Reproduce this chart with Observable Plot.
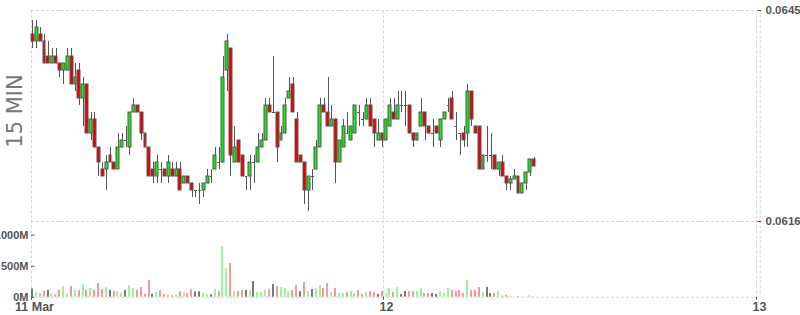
<!DOCTYPE html>
<html>
<head>
<meta charset="utf-8">
<script src="https://cdn.jsdelivr.net/npm/d3@7"></script>
<script src="https://cdn.jsdelivr.net/npm/@observablehq/plot@0.6"></script>
<style>
  html,body{margin:0;padding:0;background:#fff;}
  #chart{position:relative;width:800px;height:315px;overflow:hidden;}
  #chart svg{position:absolute;left:0;top:0;overflow:visible;background:none;}
  #label{position:absolute;left:15px;top:111px;transform:translate(-50%,-50%) rotate(-90deg);font:21px "DejaVu Sans",sans-serif;color:#777;white-space:nowrap;}
</style>
</head>
<body>
<div id="chart"><div id="label">15 MIN</div></div>
<script>
// ---- data ----
const startTime = "2024-03-11T01:15:00Z";   // first 15-minute candle
const intervalMinutes = 15;

const open = [
0.0642,0.0641,0.0642,0.0641,0.0639,0.0638,0.0639,0.0638,0.0637,0.0637,
0.0639,0.0635,0.0637,0.0633,0.0635,0.0628,0.0630,0.0626,0.0623,0.0623,
0.0625,0.0624,0.0623,0.0626,0.0627,0.0626,0.0631,0.0632,0.0631,0.0628,
0.0626,0.0623,0.0622,0.0623,0.0623,0.0622,0.0623,0.0622,0.0623,0.0621,
0.0622,0.0621,0.0620,0.0620,0.0620,0.0621,0.0622,0.0623,0.0624,0.0624,
0.0637,0.0640,0.0624,0.0627,0.0625,0.0622,0.0622,0.0624,0.0624,0.0626,
0.0627,0.0632,0.0631,0.0631,0.0627,0.0628,0.0633,0.0635,0.0630,0.0625,
0.0624,0.0620,0.0622,0.0623,0.0626,0.0632,0.0631,0.0629,0.0630,0.0624,
0.0626,0.0628,0.0627,0.0628,0.0631,0.0630,0.0630,0.0632,0.0630,0.0627,
0.0628,0.0627,0.0629,0.0631,0.0630,0.0632,0.0632,0.0632,0.0628,0.0627,
0.0629,0.0631,0.0629,0.0628,0.0629,0.0627,0.0630,0.0632,0.0633,0.0629,
0.0628,0.0628,0.0628,0.0634,0.0629,0.0629,0.0623,0.0625,0.0625,0.0625,
0.0623,0.0624,0.0622,0.0621,0.06215,0.0622,0.06195,0.0621,0.06225,0.06243];

const high = [
0.0644,0.0644,0.0643,0.0642,0.0641,0.0640,0.0640,0.0638,0.0638,0.0640,
0.0640,0.0638,0.0638,0.0636,0.0635,0.0631,0.0631,0.0626,0.0624,0.0625,
0.0626,0.0624,0.0628,0.0628,0.0629,0.0631,0.0633,0.0632,0.0631,0.0628,
0.0626,0.0624,0.0625,0.0624,0.0623,0.0625,0.0624,0.0624,0.0624,0.0622,
0.0622,0.0621,0.0620,0.0621,0.0621,0.0623,0.0623,0.0626,0.0626,0.0639,
0.0642,0.0640,0.0629,0.0627,0.0625,0.0622,0.0625,0.0625,0.0628,0.0628,
0.0633,0.0633,0.0639,0.0631,0.0629,0.0633,0.0636,0.0636,0.0631,0.0625,
0.0624,0.0622,0.0623,0.0627,0.0633,0.0633,0.0636,0.0632,0.0630,0.0627,
0.0630,0.0631,0.0629,0.0632,0.0632,0.0631,0.0633,0.0633,0.0630,0.0630,
0.0628,0.0630,0.0633,0.0633,0.0634,0.0634,0.0634,0.0632,0.0628,0.0628,
0.0633,0.0631,0.0629,0.0630,0.0629,0.0630,0.0631,0.0633,0.0634,0.0631,
0.0628,0.0629,0.0635,0.0634,0.0629,0.0629,0.0625,0.0629,0.0628,0.0625,
0.0624,0.0625,0.0622,0.0622,0.0623,0.0622,0.0621,0.06225,0.06243,0.06247];

const low = [
0.0640,0.0640,0.0641,0.0638,0.0638,0.0638,0.0638,0.0636,0.0635,0.0637,
0.0635,0.0634,0.0632,0.0629,0.0628,0.0627,0.0626,0.0622,0.0622,0.0620,
0.0624,0.0623,0.0623,0.0626,0.0626,0.0625,0.0631,0.0631,0.0627,0.0626,
0.0622,0.0621,0.0621,0.0621,0.0622,0.0621,0.0622,0.0622,0.0620,0.0621,
0.0621,0.0619,0.0619,0.0618,0.0619,0.0621,0.0621,0.0623,0.0623,0.0624,
0.0634,0.0622,0.0624,0.0624,0.0622,0.0620,0.0620,0.0621,0.0624,0.0626,
0.0627,0.0631,0.0631,0.0624,0.0627,0.0628,0.0633,0.0631,0.0624,0.0624,
0.0618,0.0617,0.0620,0.0623,0.0626,0.0631,0.0629,0.0629,0.0621,0.0624,
0.0626,0.0628,0.0627,0.0628,0.0629,0.0629,0.0630,0.0629,0.0626,0.0627,
0.0626,0.0627,0.0629,0.0630,0.0630,0.0631,0.0629,0.0628,0.0626,0.0627,
0.0629,0.0627,0.0628,0.0626,0.0628,0.0626,0.0630,0.0631,0.0630,0.0627,
0.0625,0.0626,0.0626,0.0629,0.0628,0.0623,0.0623,0.0624,0.0623,0.0623,
0.0622,0.0622,0.0620,0.0620,0.06215,0.06195,0.06195,0.0620,0.0622,0.06234];

const close = [
0.0641,0.0643,0.0641,0.0638,0.0638,0.0639,0.0638,0.0637,0.0638,0.0639,
0.0635,0.0636,0.0633,0.0635,0.0628,0.0630,0.0626,0.0624,0.0622,0.0624,
0.0624,0.0623,0.0626,0.0627,0.0627,0.0631,0.0632,0.0631,0.0628,0.0626,
0.0622,0.0622,0.0624,0.0623,0.0622,0.0624,0.0622,0.0623,0.0620,0.0622,
0.0621,0.0620,0.0620,0.0620,0.0621,0.0622,0.0622,0.0625,0.0624,0.0636,
0.0641,0.0625,0.0626,0.0624,0.0622,0.0622,0.0624,0.0624,0.0626,0.0627,
0.0632,0.0631,0.0631,0.0626,0.0628,0.0632,0.0634,0.0631,0.0624,0.0624,
0.0620,0.0622,0.0622,0.0626,0.0632,0.0631,0.0629,0.0630,0.0624,0.0627,
0.0629,0.0628,0.0629,0.0632,0.0631,0.0630,0.0632,0.0629,0.0628,0.0628,
0.0627,0.0630,0.0632,0.0630,0.0632,0.0632,0.0632,0.0628,0.0627,0.0628,
0.0631,0.0629,0.0628,0.0628,0.0628,0.0630,0.0631,0.0632,0.0630,0.0629,
0.0628,0.0627,0.0634,0.0630,0.0628,0.0623,0.0625,0.0625,0.0625,0.0623,
0.0624,0.0622,0.0621,0.06215,0.0622,0.06195,0.0621,0.06225,0.06243,0.06234];

// volume in millions
const volumeM = [
134,75,54,97,108,54,38,108,172,59,
172,108,108,204,108,140,108,220,124,156,
108,97,91,65,108,188,140,108,156,48,
269,48,75,108,43,38,22,32,91,81,
59,118,86,86,54,38,38,124,91,817,
457,543,91,91,108,108,108,253,75,75,
108,124,204,172,156,140,97,108,188,91,
237,91,124,140,188,140,220,75,140,59,
59,75,91,59,108,43,75,91,75,43,
91,59,140,75,156,43,91,91,91,91,
140,59,59,59,43,91,59,140,108,91,
108,59,269,108,108,156,75,156,59,59,
91,16,27,11,5,11,5,5,22,5];

const priceTicks = [0.06156, 0.06454];          // ends of the price axis
const volumeTicks = [0, 500, 1000];             // millions
const volumeTop = 4619;                          // millions at top of panel
const dayTicks = ["2024-03-11T01:20:00Z", "2024-03-12T00:00:00Z", "2024-03-13T00:00:00Z"];
const dayLabels = ["11 Mar", "12", "13"];

// ---- build ----
const MIN = 60000;
const t0 = new Date(startTime);
const shift = (t, m) => new Date(+t + m * MIN);
const candles = open.map((o, i) => ({
  t: shift(t0, i * intervalMinutes), o, h: high[i], l: low[i], c: close[i],
  v: volumeM[i], dir: i === 0 ? 0 : Math.sign(close[i] - close[i - 1])
}));
const bodies = candles.filter(d => d.o !== d.c);
const dojis = candles.filter(d => d.o === d.c);
const days = dayTicks.map(d => new Date(d));
const xDomain = [days[0], days[days.length - 1]];

const grid = {stroke: "#d6d6d6", strokeDasharray: "3,2", strokeWidth: 1};
const font = "Liberation Sans, Arial, sans-serif";
const W = 800, H = 315, mL = 31, mR = 43.7, mT = 10.3;

const price = Plot.plot({
  width: W, height: H,
  marginLeft: mL, marginRight: mR, marginTop: mT, marginBottom: H - 221,
  style: {fontFamily: font, fontWeight: "bold", color: "#555", background: "none"},
  x: {type: "utc", domain: xDomain, axis: null, round: true},
  y: {domain: priceTicks, axis: null, round: true},
  marks: [
    Plot.ruleY(priceTicks, grid),
    Plot.axisY(priceTicks, {anchor: "right", label: null, tickSize: 4, tickPadding: 4.7,
      tickFormat: d3.format(".4f"), fontSize: 11.5}),
    Plot.ruleX(candles, {x: d => shift(d.t, 10), y1: "l", y2: "h", stroke: "#555", strokeWidth: 1}),
    Plot.rect(bodies, {x1: d => shift(d.t, 4.4), x2: d => shift(d.t, 15.6), y1: "o", y2: "c",
      fill: d => d.c > d.o ? "#11ee11" : "#f00000", stroke: "#555", strokeWidth: 1}),
    Plot.ruleY(dojis, {y: "o", x1: d => shift(d.t, 4.4), x2: d => shift(d.t, 15.6), stroke: "#555", strokeWidth: 1})
  ]
});

const vol = Plot.plot({
  width: W, height: H,
  marginLeft: mL, marginRight: mR, marginTop: mT, marginBottom: H - 296.7,
  style: {fontFamily: font, fontWeight: "bold", color: "#555", background: "none"},
  x: {type: "utc", domain: xDomain, axis: null, round: true},
  y: {domain: [0, volumeTop], axis: null},
  marks: [
    Plot.ruleX(days, grid),
    Plot.ruleX([xDomain[1]], {...grid, dx: 3.7}),
    Plot.ruleY([0], grid),
    Plot.rectY(candles, {x1: d => shift(d.t, 5), x2: d => shift(d.t, 12.7), y: "v",
      fill: d => d.dir > 0 ? "#98f598" : d.dir < 0 ? "#f79797" : "#777"}),
    Plot.axisY(volumeTicks, {anchor: "left", label: null, tickSize: 0, tickPadding: 3,
      tickFormat: d => d + "M", fontSize: 11}),
    Plot.axisY(volumeTicks, {anchor: "left", label: null, tickSize: -3.5, tickFormat: () => ""}),
    Plot.axisX(days, {anchor: "bottom", label: null, tickSize: 3, tickFormat: () => ""}),
    Plot.axisX(days, {anchor: "bottom", label: null, tickSize: 0, tickPadding: 5, dx: 3, fontSize: 12.5,
      tickFormat: d => dayLabels[days.findIndex(t => +t === +d)]})
  ]
});

const chart = document.getElementById("chart");
chart.appendChild(vol);
chart.appendChild(price);
</script>
</body>
</html>
